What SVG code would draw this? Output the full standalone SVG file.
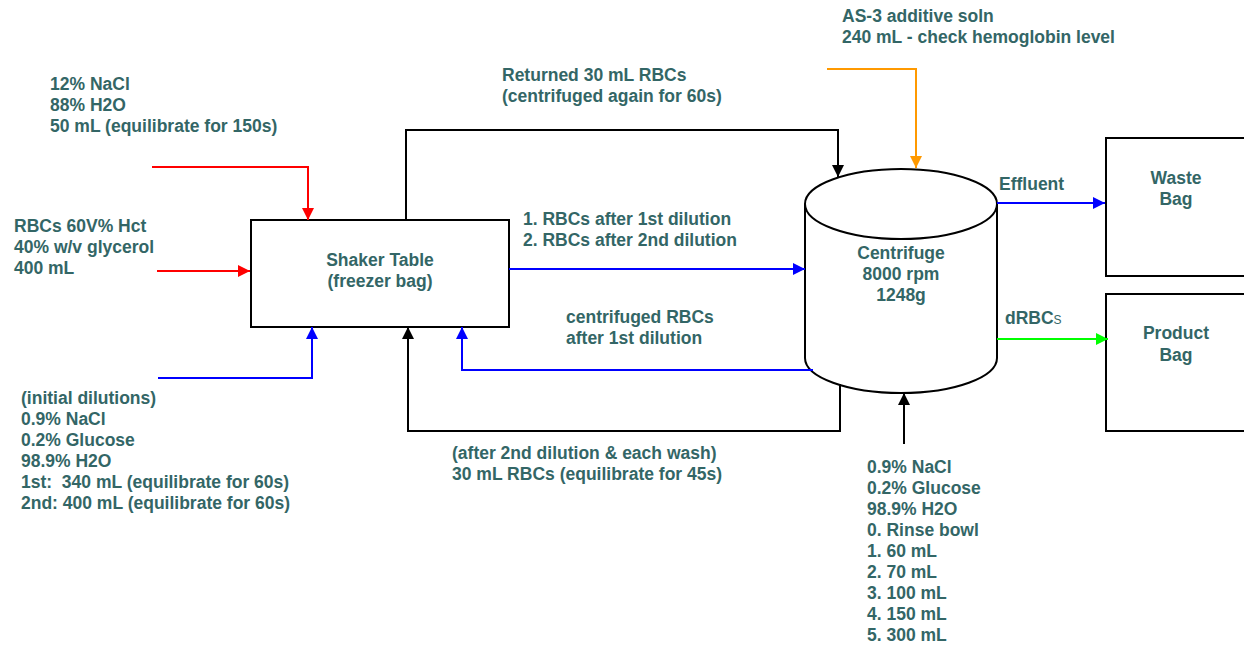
<svg xmlns="http://www.w3.org/2000/svg" width="1244" height="646" viewBox="0 0 1244 646">
<style>
text{font-family:"Liberation Sans",Arial,sans-serif;font-weight:bold;font-size:17.5px;fill:#336666}
.c{text-anchor:middle}
.box{fill:#fff;stroke:#000;stroke-width:2}
.ln{fill:none;stroke-width:2}
.red{stroke:#ff0000}.blue{stroke:#0000ff}.blk{stroke:#000}.org{stroke:#ff9900}.grn{stroke:#00ff00}
</style>
<defs>
<marker id="aR" markerUnits="userSpaceOnUse" markerWidth="12" markerHeight="12" viewBox="0 0 12 12" refX="12" refY="6" orient="auto"><path d="M0,0 L12,6 L0,12 z" fill="#ff0000"/></marker>
<marker id="aB" markerUnits="userSpaceOnUse" markerWidth="12" markerHeight="12" viewBox="0 0 12 12" refX="12" refY="6" orient="auto"><path d="M0,0 L12,6 L0,12 z" fill="#0000ff"/></marker>
<marker id="aK" markerUnits="userSpaceOnUse" markerWidth="12" markerHeight="12" viewBox="0 0 12 12" refX="12" refY="6" orient="auto"><path d="M0,0 L12,6 L0,12 z" fill="#000"/></marker>
<marker id="aO" markerUnits="userSpaceOnUse" markerWidth="12" markerHeight="12" viewBox="0 0 12 12" refX="12" refY="6" orient="auto"><path d="M0,0 L12,6 L0,12 z" fill="#ff9900"/></marker>
<marker id="aG" markerUnits="userSpaceOnUse" markerWidth="12" markerHeight="12" viewBox="0 0 12 12" refX="12" refY="6" orient="auto"><path d="M0,0 L12,6 L0,12 z" fill="#00ff00"/></marker>
</defs>
<rect width="1244" height="646" fill="#fff"/>

<g id="shaker">
<rect class="box" x="251" y="220" width="258" height="107"/>
<text class="c" x="380" y="266">Shaker Table</text>
<text class="c" x="380" y="287">(freezer bag)</text>
</g>

<g id="centrifuge">
<path class="box" d="M805,204 V358 A96,35 0 0 0 997,358 V204"/>
<ellipse class="box" cx="901" cy="204" rx="96" ry="35"/>
<text class="c" x="901" y="259">Centrifuge</text>
<text class="c" x="901" y="280">8000 rpm</text>
<text class="c" x="901" y="301">1248g</text>
</g>

<g id="waste">
<rect class="box" x="1106" y="138" width="142" height="138"/>
<text class="c" x="1176" y="184">Waste</text>
<text class="c" x="1176" y="205">Bag</text>
</g>

<g id="product">
<rect class="box" x="1106" y="294" width="142" height="137"/>
<text class="c" x="1176" y="339">Product</text>
<text class="c" x="1176" y="361">Bag</text>
</g>

<g id="connectors">
<path class="ln red" d="M152,167 H308 V220" marker-end="url(#aR)"/>
<path class="ln red" d="M157,271 H250" marker-end="url(#aR)"/>
<path class="ln blue" d="M158,378 H312 V327" marker-end="url(#aB)"/>
<path class="ln blk" d="M840,384 V431 H408 V327" marker-end="url(#aK)"/>
<path class="ln blue" d="M813,370 H462 V327" marker-end="url(#aB)"/>
<path class="ln blk" d="M406,220 V130 H838 V177" marker-end="url(#aK)"/>
<path class="ln org" d="M827,69 H916 V168" marker-end="url(#aO)"/>
<path class="ln blue" d="M509,269 H805" marker-end="url(#aB)"/>
<path class="ln blue" d="M997,203 H1105" marker-end="url(#aB)"/>
<path class="ln grn" d="M997,339 H1108" marker-end="url(#aG)"/>
<path class="ln blk" d="M904,444 V393" marker-end="url(#aK)"/>
</g>

<g id="labels">
<text x="50" y="90">12% NaCl</text>
<text x="50" y="111">88% H2O</text>
<text x="50" y="132">50 mL (equilibrate for 150s)</text>

<text x="14" y="232">RBCs 60V% Hct</text>
<text x="14" y="253">40% w/v glycerol</text>
<text x="14" y="274">400 mL</text>

<text x="21" y="404">(initial dilutions)</text>
<text x="21" y="425">0.9% NaCl</text>
<text x="21" y="446">0.2% Glucose</text>
<text x="21" y="467">98.9% H2O</text>
<text x="21" y="488" xml:space="preserve">1st:  340 mL (equilibrate for 60s)</text>
<text x="21" y="509">2nd: 400 mL (equilibrate for 60s)</text>

<text x="502" y="81">Returned 30 mL RBCs</text>
<text x="502" y="102">(centrifuged again for 60s)</text>

<text x="523" y="225">1. RBCs after 1st dilution</text>
<text x="523" y="246">2. RBCs after 2nd dilution</text>

<text x="566" y="323">centrifuged RBCs</text>
<text x="566" y="344">after 1st dilution</text>

<text x="452" y="459">(after 2nd dilution &amp; each wash)</text>
<text x="452" y="480">30 mL RBCs (equilibrate for 45s)</text>

<text x="842" y="22">AS-3 additive soln</text>
<text x="842" y="43">240 mL - check hemoglobin level</text>

<text x="999" y="190">Effluent</text>
<text x="1005" y="324">dRBC<tspan style="font-variant:small-caps;font-weight:normal">s</tspan></text>

<text x="867" y="473">0.9% NaCl</text>
<text x="867" y="494">0.2% Glucose</text>
<text x="867" y="515">98.9% H2O</text>
<text x="867" y="536">0. Rinse bowl</text>
<text x="867" y="557">1. 60 mL</text>
<text x="867" y="578">2. 70 mL</text>
<text x="867" y="599">3. 100 mL</text>
<text x="867" y="620">4. 150 mL</text>
<text x="867" y="641">5. 300 mL</text>
</g>
</svg>
